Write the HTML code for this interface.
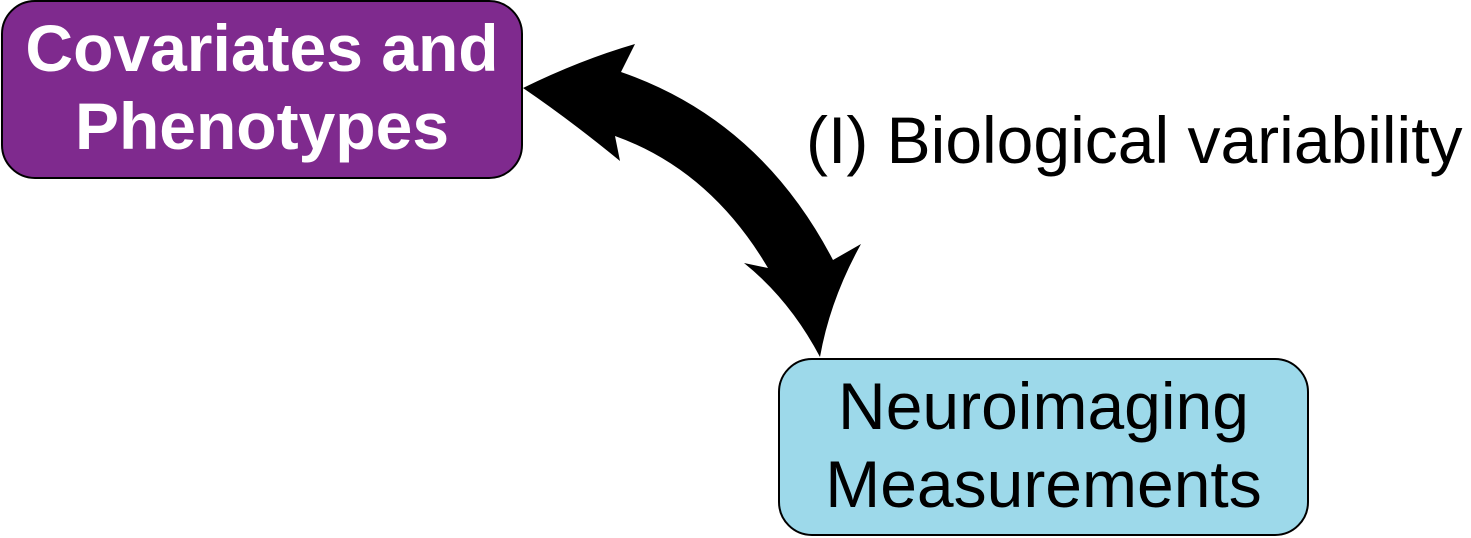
<!DOCTYPE html>
<html><head><style>
body{margin:0;width:1471px;height:538px;background:#fff;position:relative;overflow:hidden;font-family:"Liberation Sans",Arial,sans-serif}
.box{position:absolute;box-sizing:border-box;border:2px solid #000;border-radius:34px;display:flex;align-items:center;justify-content:center;text-align:center;font-size:66px;line-height:78px}
#a{left:1px;top:0;width:522px;height:179px;background:#7f2a8e;color:#fff;font-weight:bold;padding-bottom:6px}
#b{left:778px;top:358px;width:531px;height:178px;background:#9dd9ea;color:#000;padding-bottom:4px}
#l{position:absolute;left:806px;top:100px;font-size:66px;line-height:80px;white-space:nowrap}
svg{position:absolute;left:0;top:0}
</style></head><body>
<div class="box" id="a">Covariates and<br>Phenotypes</div>
<div class="box" id="b">Neuroimaging<br>Measurements</div>
<div id="l">(I) Biological variability</div>
<svg width="1471" height="538"><path d="M523,88 Q580,60 635,44 L621,72 Q760,120 833,260 L861,244 Q830,300 820,357 Q790,300 744,263 L768,268 Q710,170 615,136 L620,161 Q570,120 523,88 Z" fill="#000"/></svg>
</body></html>
